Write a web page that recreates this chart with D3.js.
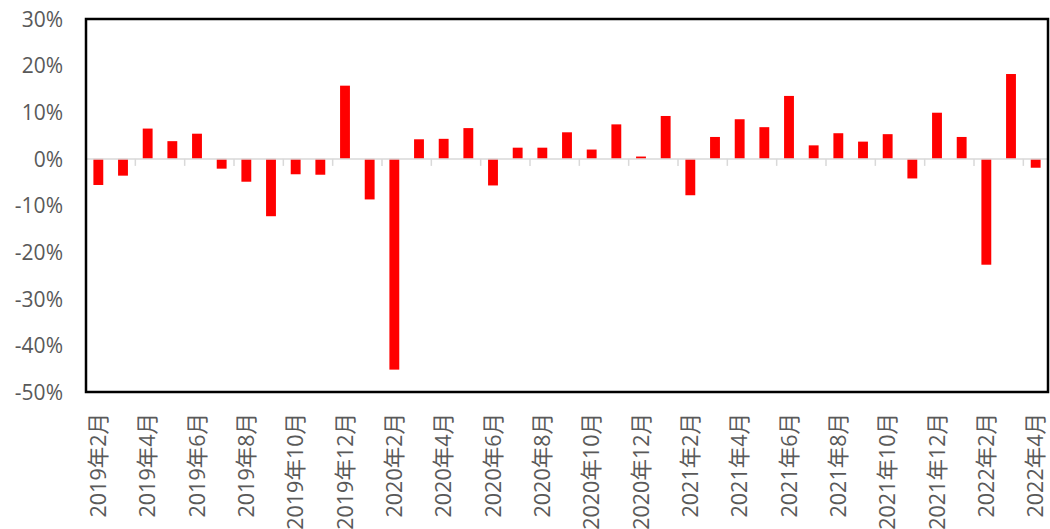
<!DOCTYPE html>
<meta charset="utf-8">
<style>
body { margin: 0; background: #fff; }
.axis text {
  font-family: "Open Sans", "Noto Sans CJK SC", sans-serif;
  fill: #595959;
}
</style>
<body>
<svg width="1050" height="529"></svg>
<script src="https://d3js.org/d3.v7.min.js"></script>
<script>
// months 2019-02 .. 2022-04
var months = [
  "2019年2月","2019年3月","2019年4月","2019年5月","2019年6月","2019年7月","2019年8月","2019年9月","2019年10月","2019年11月","2019年12月",
  "2020年1月","2020年2月","2020年3月","2020年4月","2020年5月","2020年6月","2020年7月","2020年8月","2020年9月","2020年10月","2020年11月","2020年12月",
  "2021年1月","2021年2月","2021年3月","2021年4月","2021年5月","2021年6月","2021年7月","2021年8月","2021年9月","2021年10月","2021年11月","2021年12月",
  "2022年1月","2022年2月","2022年3月","2022年4月"
];

// growth rates, %
var growth = [
  -5.6, -3.6, 6.5, 3.8, 5.4, -2.1, -4.9, -12.3, -3.3, -3.4, 15.7,
  -8.7, -45.2, 4.2, 4.3, 6.6, -5.7, 2.4, 2.4, 5.7, 2.0, 7.4, 0.5,
  9.2, -7.8, 4.7, 8.5, 6.8, 13.5, 2.9, 5.5, 3.7, 5.3, -4.2, 9.9,
  4.7, -22.7, 18.2, -1.9
];

var yTicks = [-50, -40, -30, -20, -10, 0, 10, 20, 30];

var svg = d3.select("svg"),
    plotL = 86, plotR = 1048, plotT = 19, plotB = 392;

var x = d3.scaleBand()
    .domain(months)
    .range([plotL, plotR])
    .paddingInner(0.6)
    .paddingOuter(0.3);

var y = d3.scaleLinear()
    .domain([-50, 30])
    .range([plotB, plotT]);

// y axis labels
var yAxis = svg.append("g")
    .attr("class", "axis")
    .attr("transform", "translate(" + plotL + ",0)")
    .call(d3.axisLeft(y)
      .tickValues(yTicks)
      .tickSize(0)
      .tickPadding(23)
      .tickFormat(function(d) { return d + "%"; }));
yAxis.select(".domain").remove();
yAxis.selectAll("text").style("font-size", "21px").attr("dy", "0.35em");

// bars
svg.append("g").selectAll("rect")
  .data(growth)
  .enter().append("rect")
    .attr("x", function(d, i) { return x(months[i]); })
    .attr("width", x.bandwidth())
    .attr("y", function(d) { return y(Math.max(0, d)); })
    .attr("height", function(d) { return Math.abs(y(d) - y(0)); })
    .attr("fill", "#ff0000");

// zero line with category ticks every 2 months
var step = x.step();
var zero = y(0);
svg.append("line")
    .attr("x1", plotL).attr("x2", plotR)
    .attr("y1", zero).attr("y2", zero)
    .attr("stroke", "#d9d9d9").attr("stroke-width", 1.5);

var bounds = d3.range(0, months.length + 1, 2);
svg.append("g").selectAll("line")
  .data(bounds)
  .enter().append("line")
    .attr("x1", function(k) { return plotL + k * step; })
    .attr("x2", function(k) { return plotL + k * step; })
    .attr("y1", zero).attr("y2", zero + 7)
    .attr("stroke", "#d9d9d9").attr("stroke-width", 1.5);

// frame
svg.append("rect")
    .attr("x", plotL).attr("y", plotT)
    .attr("width", plotR - plotL).attr("height", plotB - plotT)
    .attr("fill", "none")
    .attr("stroke", "#000")
    .attr("stroke-width", 2.5);

// x labels, every other month
var xAxis = svg.append("g")
    .attr("class", "axis")
    .attr("transform", "translate(0," + plotB + ")")
    .call(d3.axisBottom(x)
      .tickValues(months.filter(function(d, i) { return i % 2 === 0; }))
      .tickSize(0));
xAxis.select(".domain").remove();
xAxis.selectAll("text")
    .style("font-size", "21.5px")
    .attr("text-anchor", "end")
    .attr("transform", "rotate(-90)")
    .attr("x", -21)
    .attr("y", 0)
    .attr("dy", "0.35em");
</script>
</body>
